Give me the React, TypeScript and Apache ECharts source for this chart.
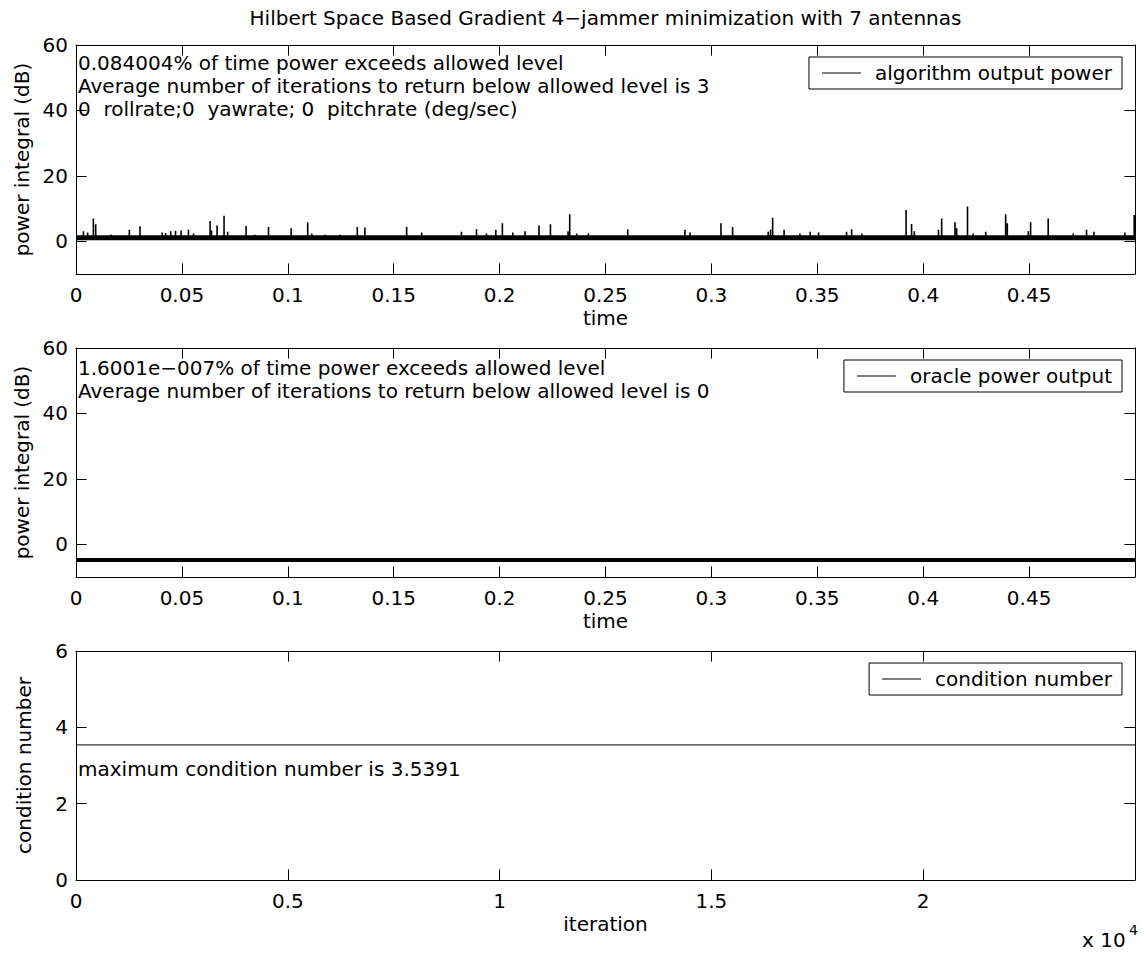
import React, { useEffect, useRef } from 'react';
import * as echarts from 'echarts';

// ---------- data ----------
const TITLE = 'Hilbert Space Based Gradient 4\u2212jammer minimization with 7 antennas';
const TIME_TICKS = [0, 0.05, 0.1, 0.15, 0.2, 0.25, 0.3, 0.35, 0.4, 0.45];
const POWER_TICKS = [0, 20, 40, 60];
const ITER_TICKS = [0, 5000, 10000, 15000, 20000];
const COND_TICKS = [0, 2, 4, 6];
const TIME_END = 0.49998;
const ITER_END = 24999;

const ALGO_NAME = 'algorithm output power';
const ORACLE_NAME = 'oracle power output';
const COND_NAME = 'condition number';

// baseline (noise band centre) levels in dB
const algoBase = 1.1;
const oracleBase = -4.8;

// spikes of the algorithm output power (time, peak dB)
const algoSpikeTimes = [
  0.0035, 0.0055, 0.0082, 0.0093, 0.0165, 0.0252, 0.0302, 0.0407, 0.0423, 0.0447,
  0.047, 0.0496, 0.0531, 0.0555, 0.0633, 0.064, 0.0666, 0.0699, 0.0716, 0.0803,
  0.0843, 0.0909, 0.1016, 0.1094, 0.1113, 0.1176, 0.1247, 0.1328, 0.1364, 0.1561,
  0.1632, 0.182, 0.1891, 0.1938, 0.1982, 0.2013, 0.2062, 0.212, 0.2186, 0.224,
  0.2323, 0.2331, 0.2364, 0.2419, 0.2605, 0.2875, 0.2899, 0.3045, 0.31, 0.3268,
  0.3279, 0.3289, 0.3343, 0.3418, 0.3466, 0.3506, 0.3638, 0.3662, 0.371, 0.3919,
  0.3945, 0.3958, 0.4072, 0.4087, 0.415, 0.4158, 0.4209, 0.4236, 0.4295, 0.4389,
  0.4397, 0.4496, 0.4507, 0.459, 0.4708, 0.4771, 0.4806, 0.4952, 0.4996,
];
const algoSpikePeaks = [
  3.1, 2.7, 7.0, 5.2, 2.1, 3.5, 4.6, 2.7, 2.5, 3.1,
  3.2, 3.3, 3.5, 2.4, 6.2, 3.3, 4.8, 7.8, 2.9, 4.7,
  2.0, 4.4, 4.0, 5.8, 2.4, 2.0, 2.0, 4.4, 4.2, 4.4,
  2.7, 2.9, 3.7, 2.4, 3.5, 5.5, 2.7, 3.1, 4.8, 5.2,
  3.1, 8.3, 2.4, 2.4, 3.7, 3.5, 2.7, 5.5, 4.4, 2.9,
  3.5, 7.2, 3.5, 2.4, 2.9, 2.7, 2.9, 3.7, 2.4, 9.6,
  5.3, 3.1, 3.5, 7.0, 5.8, 4.0, 10.6, 2.4, 2.9, 8.3,
  5.5, 3.1, 5.8, 7.0, 2.4, 3.5, 2.9, 2.7, 8.0,
];

const conditionLevel = 3.5391;

const ALGO_TEXT = [
  '0.084004% of time power exceeds allowed level',
  'Average number of iterations to return below allowed level is 3',
  '0  rollrate;0  yawrate; 0  pitchrate (deg/sec)',
];
const ORACLE_TEXT = [
  '1.6001e\u2212007% of time power exceeds allowed level',
  'Average number of iterations to return below allowed level is 0',
];
const COND_TEXT = 'maximum condition number is 3.5391';

// ---------- style ----------
const FONT = '"DejaVu Sans", "Liberation Sans", Arial, sans-serif';
const FS = 20;
const GRID_LEFT = 76;
const GRID_W = 1059;
const GRID_H = 229;
const GRID_TOPS = [45, 348, 651];

const textStyle = { fontFamily: FONT, fontSize: FS, color: '#000' };

function xAxes(gridIndex: number, max: number, ticks: number[], fmt: (v: number) => string, name: string) {
  const line = { show: true, onZero: false, lineStyle: { color: '#000', width: 1 } };
  const tick = { show: true, inside: true, length: 10.6, customValues: ticks, lineStyle: { color: '#000', width: 1 } };
  return [
    {
      type: 'value', gridIndex, position: 'bottom', min: 0, max,
      name, nameLocation: 'middle', nameGap: 34, nameTextStyle: textStyle,
      axisLine: line, axisTick: tick,
      axisLabel: { show: true, customValues: ticks, formatter: fmt, margin: 11, ...textStyle },
      splitLine: { show: false },
    },
    {
      type: 'value', gridIndex, position: 'top', min: 0, max,
      axisLine: line, axisTick: tick, axisLabel: { show: false }, splitLine: { show: false },
    },
  ];
}

function yAxes(gridIndex: number, min: number, max: number, ticks: number[], name: string) {
  const line = { show: true, onZero: false, lineStyle: { color: '#000', width: 1 } };
  const tick = { show: true, inside: true, length: 10.6, customValues: ticks, lineStyle: { color: '#000', width: 1 } };
  return [
    {
      type: 'value', gridIndex, position: 'left', min, max,
      name, nameLocation: 'middle', nameGap: 42, nameRotate: 90, nameTextStyle: textStyle,
      axisLine: line, axisTick: tick,
      axisLabel: { show: true, customValues: ticks, margin: 8, ...textStyle },
      splitLine: { show: false },
    },
    {
      type: 'value', gridIndex, position: 'right', min, max,
      axisLine: line, axisTick: tick, axisLabel: { show: false }, splitLine: { show: false },
    },
  ];
}

function spikeData(times: number[], peaks: number[], base: number, end: number) {
  const d: number[][] = [[0, base]];
  times.forEach((t, i) => {
    d.push([t, base], [t, peaks[i]], [t, base]);
  });
  d.push([end, base]);
  return d;
}

function gtext(text: string, x: number, y: number, size = FS, align = 'left') {
  return {
    type: 'text', x, y, z: 100,
    style: {
      text, fill: '#000', font: `${size}px ${FONT}`,
      align, textAlign: align, verticalAlign: 'middle', textVerticalAlign: 'middle',
    },
  };
}

export default function App() {
  const ref = useRef<HTMLDivElement>(null);
  useEffect(() => {
    if (!ref.current) return;
    const chart = echarts.init(ref.current, undefined, { renderer: 'svg' });
    const legendCommon = {
      right: 25, orient: 'horizontal', icon: 'rect', itemWidth: 39, itemHeight: 1,
      padding: [6, 10, 6, 13], borderColor: '#000', borderWidth: 1, borderRadius: 0,
      backgroundColor: '#fff', selectedMode: false,
      itemStyle: { color: '#000', borderWidth: 0 },
      textStyle: { ...textStyle, padding: [0, 0, 0, 9] },
    };
    const option: any = {
      animation: false,
      backgroundColor: '#fff',
      grid: GRID_TOPS.map((top) => ({ left: GRID_LEFT, top, width: GRID_W, height: GRID_H, containLabel: false })),
      xAxis: [
        ...xAxes(0, TIME_END, TIME_TICKS, (v: number) => String(v), 'time'),
        ...xAxes(1, TIME_END, TIME_TICKS, (v: number) => String(v), 'time'),
        ...xAxes(2, ITER_END, ITER_TICKS, (v: number) => String(v / 10000), 'iteration'),
      ],
      yAxis: [
        ...yAxes(0, -10, 60, POWER_TICKS, 'power integral (dB)'),
        ...yAxes(1, -10, 60, POWER_TICKS, 'power integral (dB)'),
        ...yAxes(2, 0, 6, COND_TICKS, 'condition number'),
      ],
      legend: [
        { ...legendCommon, top: GRID_TOPS[0] + 12, data: [ALGO_NAME] },
        { ...legendCommon, top: GRID_TOPS[1] + 12, data: [ORACLE_NAME] },
        { ...legendCommon, top: GRID_TOPS[2] + 12, data: [COND_NAME] },
      ],
      series: [
        {
          name: ALGO_NAME, type: 'line', xAxisIndex: 0, yAxisIndex: 0, symbol: 'none',
          data: [[0, algoBase], [TIME_END, algoBase]],
          lineStyle: { color: '#000', width: 5 }, itemStyle: { color: '#000' },
        },
        {
          name: ALGO_NAME, type: 'line', xAxisIndex: 0, yAxisIndex: 0, symbol: 'none',
          data: spikeData(algoSpikeTimes, algoSpikePeaks, algoBase, TIME_END),
          lineStyle: { color: '#000', width: 1.6 }, itemStyle: { color: '#000' },
        },
        {
          name: ORACLE_NAME, type: 'line', xAxisIndex: 2, yAxisIndex: 2, symbol: 'none',
          data: [[0, oracleBase], [TIME_END, oracleBase]],
          lineStyle: { color: '#000', width: 4 }, itemStyle: { color: '#000' },
        },
        {
          name: COND_NAME, type: 'line', xAxisIndex: 4, yAxisIndex: 4, symbol: 'none',
          data: [[0, conditionLevel], [ITER_END, conditionLevel]],
          lineStyle: { color: '#000', width: 1 }, itemStyle: { color: '#000' },
        },
      ],
      graphic: [
        gtext(TITLE, GRID_LEFT + GRID_W / 2, 18, FS, 'center'),
        gtext(ALGO_TEXT[0], 78, 62.5),
        gtext(ALGO_TEXT[1], 78, 85.5),
        gtext(ALGO_TEXT[2], 78, 108.5),
        gtext(ORACLE_TEXT[0], 78, 367.5),
        gtext(ORACLE_TEXT[1], 78, 390.5),
        gtext(COND_TEXT, 78, 769),
        gtext('x 10', 1082, 940),
        gtext('4', 1129, 930, 14),
      ],
    };
    chart.setOption(option);
    return () => chart.dispose();
  }, []);
  return (
    <div
      ref={ref}
      style={{ position: 'fixed', left: 0, top: 0, width: 1147, height: 956, background: '#fff' }}
    />
  );
}
